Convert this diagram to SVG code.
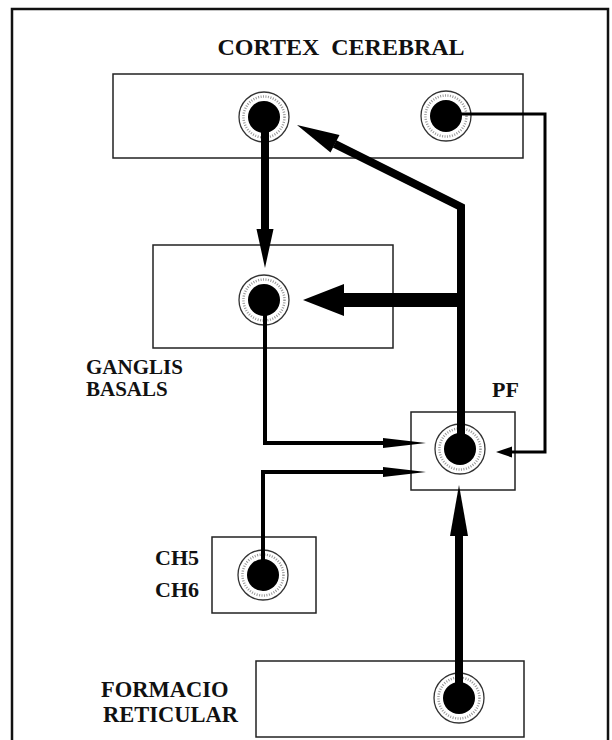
<svg xmlns="http://www.w3.org/2000/svg" width="612" height="740" viewBox="0 0 612 740">
<style>
text{font-family:'Liberation Serif','Times New Roman',serif;font-weight:bold;font-size:21px;fill:#111}
.box{fill:none;stroke:#222;stroke-width:1.5}
.ring{fill:#fff;stroke:#333;stroke-width:1.3}
.dots{fill:none;stroke:#999;stroke-width:2.5;stroke-dasharray:1 1.5}
.core{fill:#000}
.thick{fill:none;stroke:#000;stroke-width:8;stroke-linejoin:miter}
.thin{fill:none;stroke:#000;stroke-width:4;stroke-linejoin:miter}
.head{fill:#000}
</style>
<defs>
<g id="neuron"><circle class="ring" r="25"/><circle class="dots" r="20.5"/><circle class="core" r="16"/></g>
</defs>
<rect x="0" y="0" width="612" height="740" fill="#fff"/>
<rect x="12" y="9" width="596" height="740" fill="none" stroke="#111" stroke-width="2.5"/>

<g id="cortex">
<text x="341" y="55" text-anchor="middle" style="white-space:pre;font-size:24px">CORTEX  CEREBRAL</text>
<rect class="box" x="113" y="74" width="410" height="84"/>
<use href="#neuron" x="264" y="117"/>
<use href="#neuron" x="446" y="116"/>
</g>

<g id="ganglis">
<rect class="box" x="153" y="245" width="240" height="103"/>
<use href="#neuron" x="264" y="300"/>
<text x="86" y="374">GANGLIS</text>
<text x="86" y="396">BASALS</text>
</g>

<g id="pf">
<text x="492" y="397" style="font-size:22px">PF</text>
<rect class="box" x="411" y="412" width="104" height="78"/>
<use href="#neuron" x="460" y="449"/>
</g>

<g id="ch">
<rect class="box" x="212" y="537" width="104" height="76"/>
<use href="#neuron" x="263" y="575"/>
<text x="155" y="565" style="font-size:22px">CH5</text>
<text x="155" y="597" style="font-size:22px">CH6</text>
</g>

<g id="formacio">
<rect class="box" x="256" y="661" width="268" height="76"/>
<use href="#neuron" x="459" y="698"/>
<text x="101" y="697" style="font-size:22.5px">FORMACIO</text>
<text x="103" y="722" style="font-size:22.5px">RETICULAR</text>
</g>

<g id="connectors">
<path class="thick" d="M265,117 V232"/>
<polygon class="head" points="256.5,229 273.5,229 265,268"/>
<path class="thick" d="M461,449 V207 L334.6,143.8"/>
<polygon class="head" points="339.5,135 330.5,152.5 297,125"/>
<rect x="340" y="293" width="121" height="14" fill="#000"/>
<polygon class="head" points="344,284 344,316 303,300"/>
<path fill="none" stroke="#000" stroke-width="3" d="M446,114 H545 V452 H508"/>
<polygon class="head" points="512,446.5 512,457.5 496,452"/>
<path class="thin" d="M265,300 V443 H390"/>
<polygon class="head" points="383,438 383,448 426,443"/>
<path class="thin" d="M263,575 V472 H390"/>
<polygon class="head" points="383,467 383,477 426,472"/>
<path class="thick" d="M459,698 V530"/>
<polygon class="head" points="450,536 468,536 459,485"/>
</g>
</svg>
